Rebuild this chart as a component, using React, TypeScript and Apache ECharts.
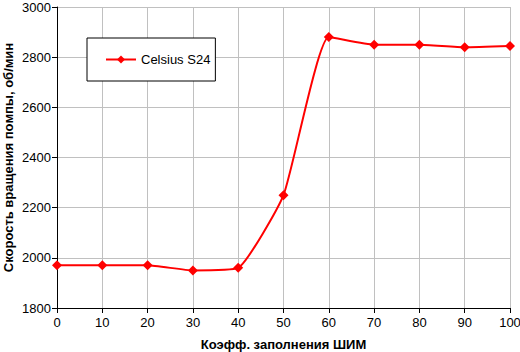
import React, { useEffect, useRef } from "react";
import * as echarts from "echarts";

const categories = [0, 10, 20, 30, 40, 50, 60, 70, 80, 90, 100];
const speeds = [1970, 1970, 1970, 1950, 1960, 2250, 2880, 2850, 2850, 2840, 2845];
const seriesName = "Celsius S24";
const xTitle = "Коэфф. заполнения ШИМ";
const yTitle = "Скорость вращения помпы, об/мин";

export default function App() {
  const ref = useRef<HTMLDivElement>(null);
  useEffect(() => {
    if (!ref.current) return;
    const chart = echarts.init(ref.current, null, { renderer: "svg" });
    const font = "'Liberation Sans', Arial, sans-serif";
    chart.setOption({
      animation: false,
      backgroundColor: "#ffffff",
      textStyle: { fontFamily: font },
      grid: { left: 57, right: 10, top: 7, bottom: 44, containLabel: false, outerBoundsMode: "none" },
      legend: {
        left: 87,
        top: 38,
        orient: "vertical",
        backgroundColor: "#ffffff",
        borderColor: "#000000",
        borderWidth: 1,
        borderRadius: 0,
        padding: [15, 5, 15, 18],
        itemWidth: 30,
        itemHeight: 10,
        itemGap: 4,
        textStyle: { fontFamily: font, fontSize: 13, color: "#000" },
        data: [{ name: seriesName }],
      },
      xAxis: {
        type: "value",
        min: 0,
        max: 100,
        interval: 10,
        name: xTitle,
        nameLocation: "middle",
        nameGap: 30,
        nameMoveOverlap: false,
        nameTextStyle: { fontFamily: font, fontSize: 13, fontWeight: "bold", color: "#000" },
        axisLine: { lineStyle: { color: "#000", width: 1 } },
        axisTick: { show: true, length: 5, lineStyle: { color: "#000" } },
        axisLabel: { fontFamily: font, fontSize: 13, color: "#000", margin: 8 },
        splitLine: { show: true, lineStyle: { color: "#c0c0c0", width: 1 } },
      },
      yAxis: {
        type: "value",
        min: 1800,
        max: 3000,
        interval: 200,
        name: yTitle,
        nameLocation: "middle",
        nameGap: 42,
        nameMoveOverlap: false,
        nameTextStyle: { fontFamily: font, fontSize: 13, fontWeight: "bold", color: "#000" },
        axisLine: { show: true, lineStyle: { color: "#000", width: 1 } },
        axisTick: { show: true, length: 5, lineStyle: { color: "#000" } },
        axisLabel: { fontFamily: font, fontSize: 13, color: "#000", margin: 6, formatter: (v: number) => String(v) },
        splitLine: { show: true, lineStyle: { color: "#c0c0c0", width: 1 } },
      },
      series: [
        {
          name: seriesName,
          type: "line",
          data: categories.map((c, i) => [c, speeds[i]]),
          smooth: 0.15,
          color: "#ff0000",
          symbol: "diamond",
          symbolSize: 10,
          lineStyle: { color: "#ff0000", width: 2 },
          itemStyle: { color: "#ff0000" },
        },
      ],
    });
    return () => chart.dispose();
  }, []);
  return (
    <div
      ref={ref}
      style={{ position: "fixed", left: 0, top: 0, width: 520, height: 352 }}
    />
  );
}
